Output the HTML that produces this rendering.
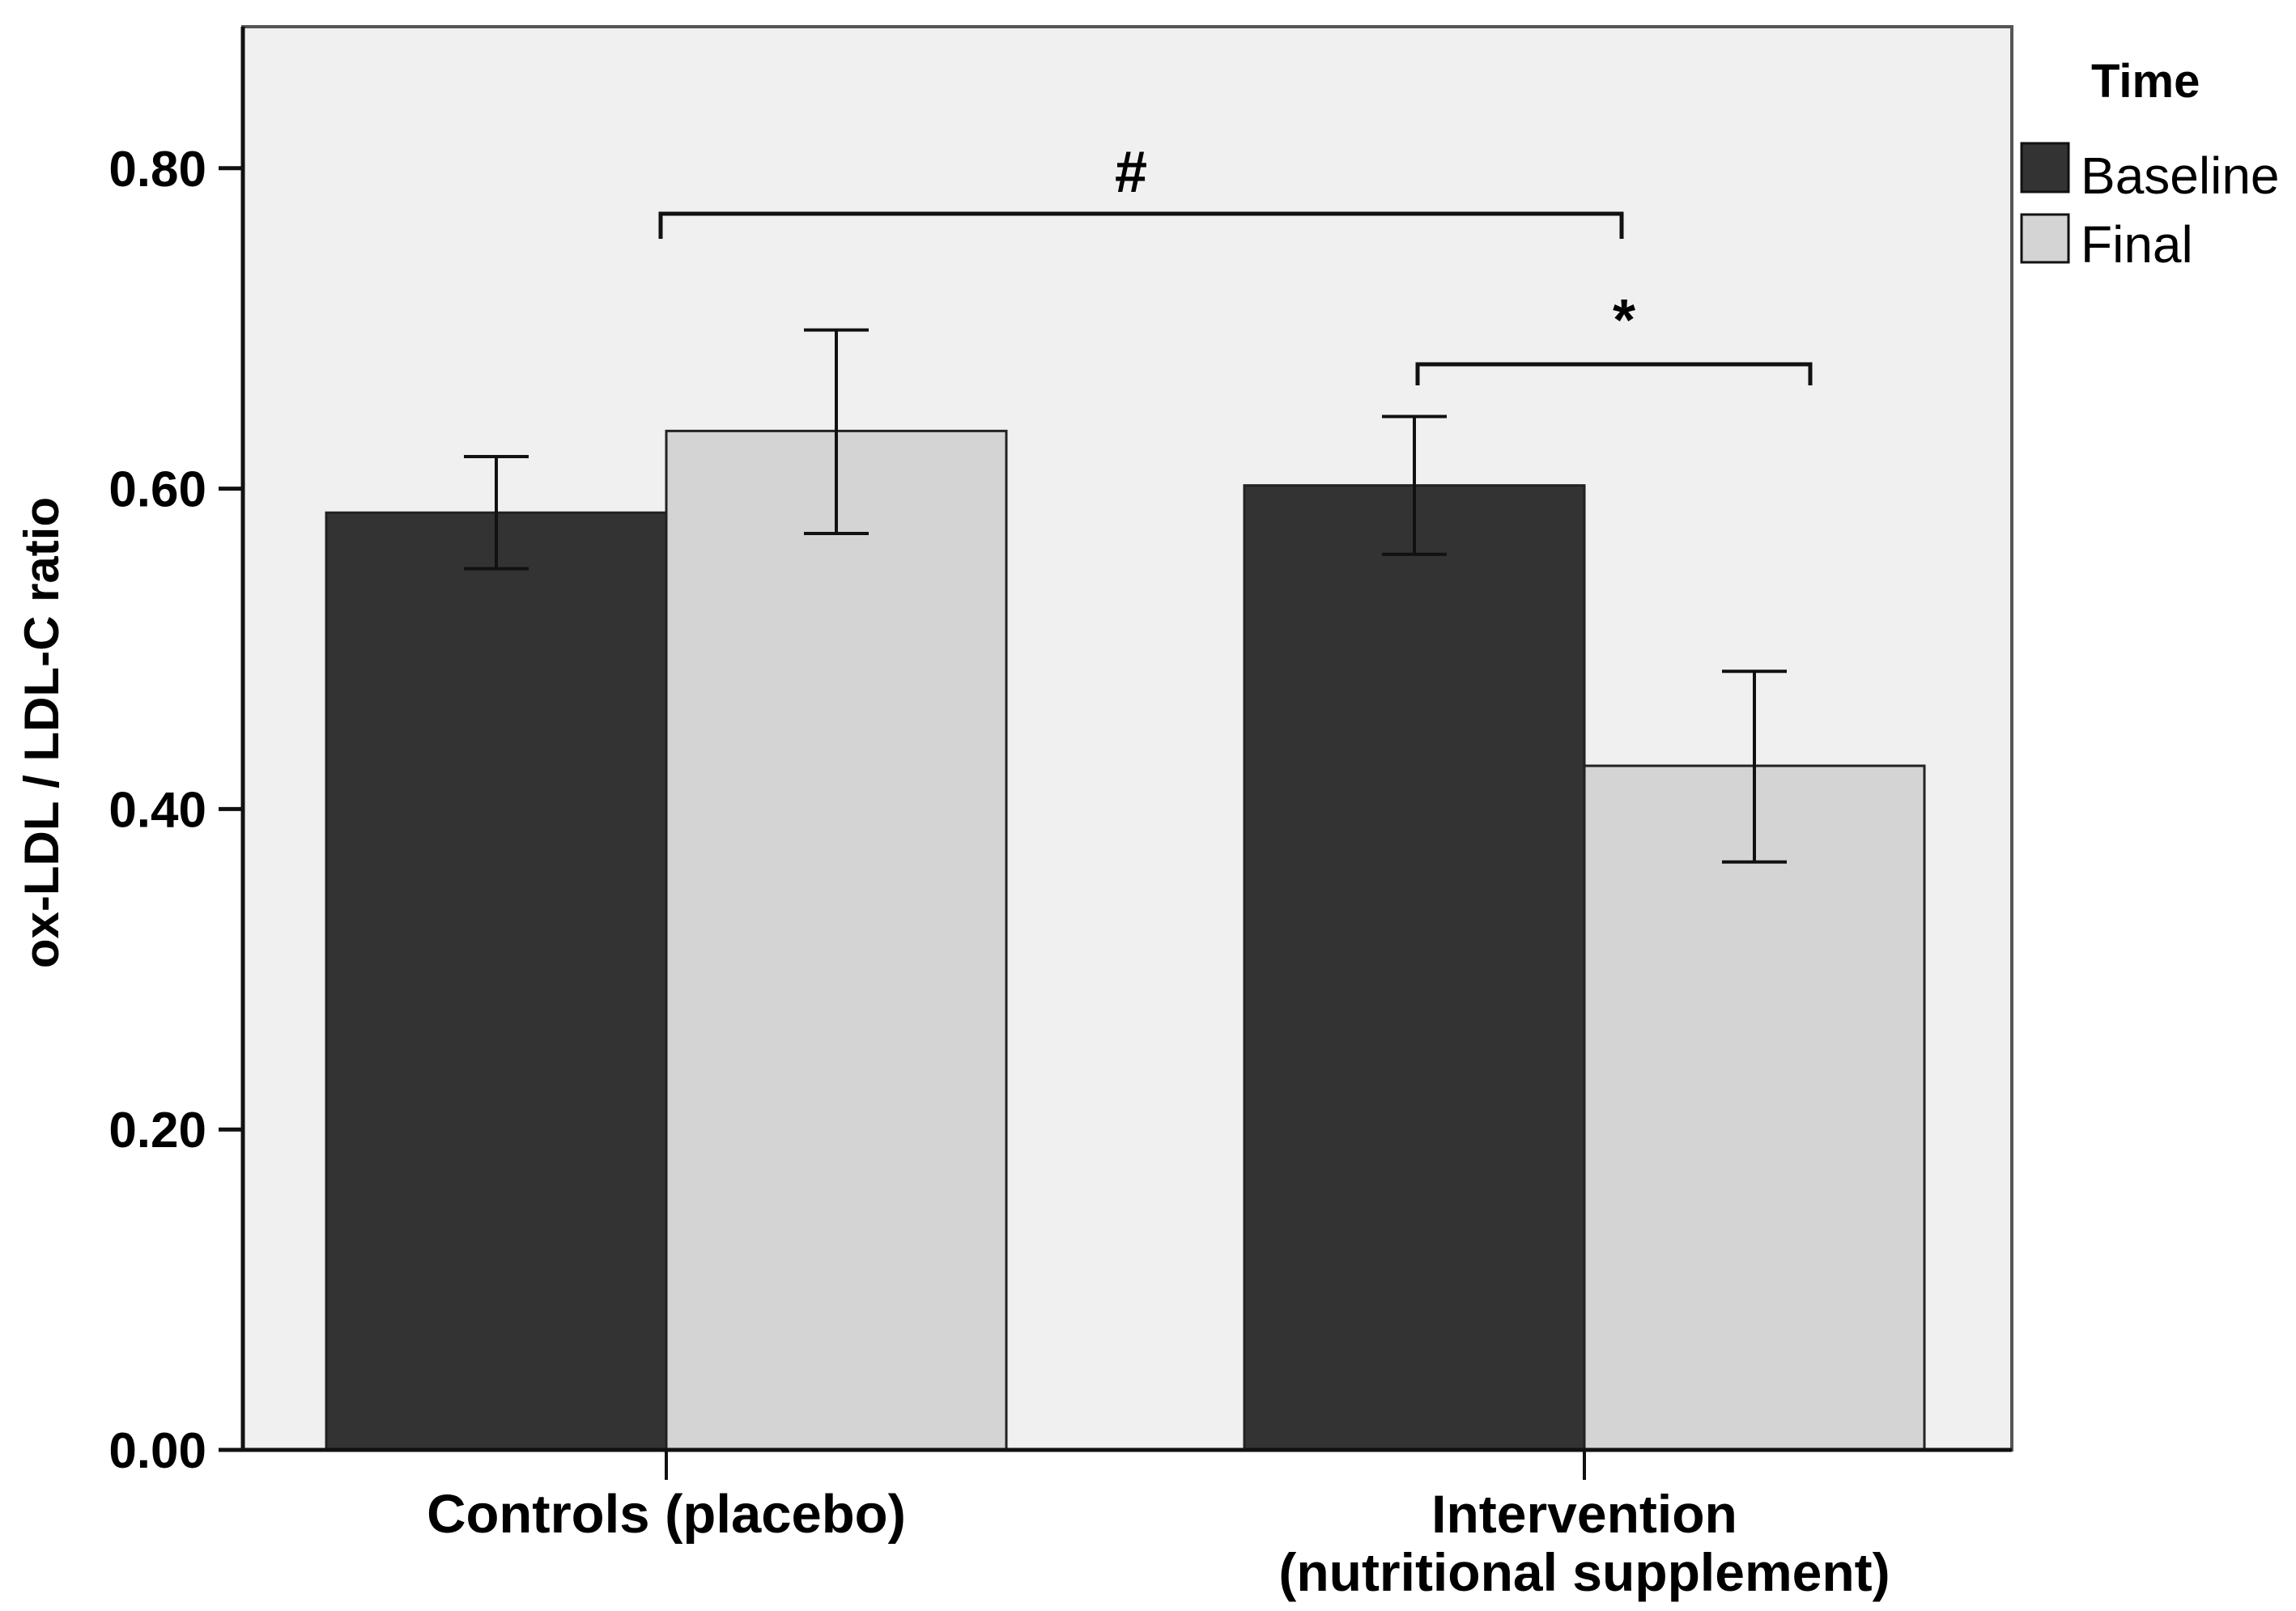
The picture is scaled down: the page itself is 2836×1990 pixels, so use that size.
<!DOCTYPE html>
<html><head><meta charset="utf-8"><style>
html,body{margin:0;padding:0;background:#fff;}
svg{display:block;}
text{font-family:"Liberation Sans",sans-serif;}
</style></head><body>
<svg id="chart" width="2836" height="1990" viewBox="0 0 2836 1990" xmlns="http://www.w3.org/2000/svg">
<rect x="300" y="33" width="2185" height="1758" fill="#f0f0f0" stroke="#555" stroke-width="4"/>
<g id="bars"></g>
<g id="axes"></g>
</svg>
<script>
const categories = ["Controls (placebo)", "Intervention|(nutritional supplement)"];
const series = ["Baseline", "Final"];
const baselineValues = [0.585, 0.602];
const finalValues = [0.636, 0.427];
const baselineLow = [0.550, 0.559];
const baselineHigh = [0.620, 0.645];
const finalLow = [0.572, 0.367];
const finalHigh = [0.699, 0.486];
const yTicks = [0, 0.2, 0.4, 0.6, 0.8];
const yTickLabels = ["0.00", "0.20", "0.40", "0.60", "0.80"];

const NS = "http://www.w3.org/2000/svg";
const svg = document.getElementById("chart");
const gB = document.getElementById("bars");
const gA = document.getElementById("axes");
function y(v){ return 1791 - v * 1979; }
const groupCenters = [823, 1957];
const barW = 420;
function x(ci, si){ return groupCenters[ci] + (si === 0 ? -barW : 0); }
function mk(tag, attrs, parent){
  const e = document.createElementNS(NS, tag);
  for (const k in attrs) e.setAttribute(k, attrs[k]);
  (parent || svg).appendChild(e);
  return e;
}
const vals = [baselineValues, finalValues];
const lows = [baselineLow, finalLow];
const highs = [baselineHigh, finalHigh];
const fills = ["#333333", "#d4d4d4"];
for (let ci = 0; ci < categories.length; ci++) {
  for (let si = 0; si < 2; si++) {
    const v = vals[si][ci];
    const r = mk("rect", {x: x(ci, si), y: y(v), width: barW, height: y(0) - y(v), fill: fills[si], stroke: "#222", "stroke-width": 3}, gB);
    
    
    const cx = x(ci, si) + barW / 2;
    const e = mk("path", {d: `M${cx-40},${y(highs[si][ci])}H${cx+40}M${cx},${y(highs[si][ci])}V${y(lows[si][ci])}M${cx-40},${y(lows[si][ci])}H${cx+40}`, stroke: "#111", "stroke-width": 4, fill: "none"}, gB);
    
    
  }
}
const ax = mk("path", {d: "M300,33V1791H2485", stroke: "#111", "stroke-width": 5, fill: "none"}, gA);


yTicks.forEach((t, i) => {
  const tk = mk("line", {x1: 270, x2: 300, y1: y(t), y2: y(t), stroke: "#111", "stroke-width": 5}, gA);
  
  
  const lb = mk("text", {x: 255, y: y(t) + 22, "text-anchor": "end", "font-size": 62, "font-weight": "bold"}, gA);
  lb.textContent = yTickLabels[i];
  
  
});
categories.forEach((c, ci) => {
  const tk = mk("line", {x1: groupCenters[ci], x2: groupCenters[ci], y1: 1791, y2: 1828, stroke: "#111", "stroke-width": 4}, gA);
  
  
  const lines = c.split("|");
  lines.forEach((l, li) => {
    const t = mk("text", {x: groupCenters[ci], y: 1893 + li * 72, "text-anchor": "middle", "font-size": lines.length > 1 ? 66 : 67, "font-weight": "bold"}, gA);
    t.textContent = l;
    
    
  });
});
const yt = mk("text", {x: 0, y: 0, transform: "translate(72,905) rotate(-90)", "text-anchor": "middle", "font-size": 60, "font-weight": "bold"}, gA);
yt.textContent = "ox-LDL / LDL-C ratio";


</script>
<svg style="position:absolute;left:0;top:0" width="2836" height="1990" xmlns="http://www.w3.org/2000/svg">
<path d="M816,295V264H2003V295" stroke="#111" stroke-width="5" fill="none"/>
<text x="1397" y="237" text-anchor="middle" font-size="72" font-weight="bold" font-family="Liberation Sans,sans-serif">#</text>
<path d="M1751,476V450H2236V476" stroke="#111" stroke-width="5" fill="none"/>
<text x="2006" y="420" text-anchor="middle" font-size="72" font-weight="bold" font-family="Liberation Sans,sans-serif">*</text>
<text x="2583" y="120" font-size="58" font-weight="bold" font-family="Liberation Sans,sans-serif">Time</text>
<rect x="2497" y="177" width="58" height="60" fill="#333" stroke="#111" stroke-width="3"/>
<text x="2570" y="239" font-size="64" font-family="Liberation Sans,sans-serif">Baseline</text>
<rect x="2497" y="265" width="58" height="59" fill="#d4d4d4" stroke="#111" stroke-width="3"/>
<text x="2570" y="324" font-size="64" font-family="Liberation Sans,sans-serif">Final</text>
</svg>
</body></html>
